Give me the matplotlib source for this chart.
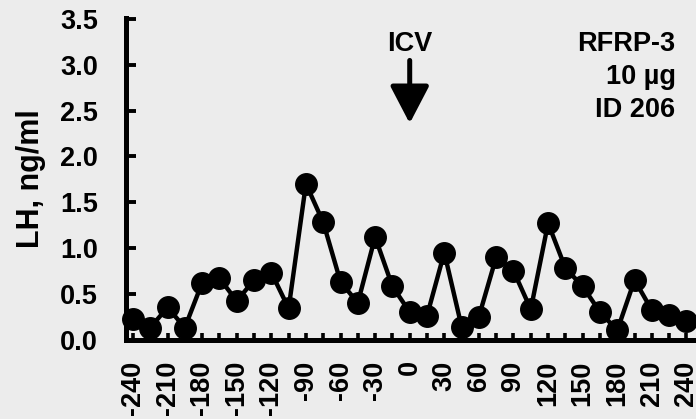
import matplotlib
matplotlib.use("Agg")
import matplotlib.pyplot as plt
import numpy as np

plt.rcParams['font.family'] = ['Liberation Sans', 'DejaVu Sans']
plt.rcParams['font.weight'] = 'bold'

# Sampling times (min relative to ICV injection) and LH concentrations
time_min = [-240, -225, -210, -195, -180, -165, -150, -135, -120, -105,
            -90, -75, -60, -45, -30, -15, 0, 15, 30, 45, 60, 75, 90,
            105, 120, 135, 150, 165, 180, 195, 210, 225, 240]
lh_ng_ml = [0.22, 0.13, 0.35, 0.13, 0.62, 0.67, 0.42, 0.65, 0.73, 0.34,
            1.70, 1.28, 0.63, 0.40, 1.12, 0.58, 0.30, 0.26, 0.95, 0.14,
            0.25, 0.90, 0.75, 0.33, 1.27, 0.78, 0.58, 0.30, 0.10, 0.65,
            0.32, 0.27, 0.20]
x_tick_values = list(range(-240, 241, 15))
x_tick_labels = [str(v) if v % 30 == 0 else "" for v in x_tick_values]
y_tick_values = [0.0, 0.5, 1.0, 1.5, 2.0, 2.5, 3.0, 3.5]
y_tick_labels = ["0.0", "0.5", "1.0", "1.5", "2.0", "2.5", "3.0", "3.5"]
info_lines = ["RFRP-3", "10 µg", "ID 206"]

bg = "#ececec"
fig = plt.figure(figsize=(6.96, 4.19), dpi=100, facecolor=bg)
ax = fig.add_axes([0.1806, 0.1897, 0.8158, 0.7673])
ax.set_facecolor(bg)

ax.plot(time_min, lh_ng_ml, color="black", lw=3.2, marker="o",
        markersize=15.5, markerfacecolor="black", markeredgecolor="black",
        clip_on=False, zorder=3)

ax.set_xlim(-246.3, 246.1)
ax.set_ylim(0, 3.51)

for side in ("top", "right"):
    ax.spines[side].set_visible(False)
for side in ("left", "bottom"):
    ax.spines[side].set_linewidth(3.6)
    ax.spines[side].set_capstyle("projecting")

ax.set_xticks(x_tick_values)
ax.set_xticklabels(x_tick_labels, rotation=90, fontsize=19.5, fontweight="bold")
ax.set_yticks(y_tick_values)
ax.set_yticklabels(y_tick_labels, fontsize=19.5, fontweight="bold")
ax.tick_params(axis="x", direction="in", length=5, width=2.6, pad=15)
ax.tick_params(axis="y", direction="in", length=7, width=2.8, pad=20)

fig.text(31 / 696, 1 - 179 / 419, "LH, ng/ml", rotation=90, ha="center",
         va="center", fontsize=22, fontweight="bold")

# Injection marker
ax.text(0, 3.145, "ICV", ha="center", va="baseline", fontsize=19.5,
        fontweight="bold")
ax.annotate("", xy=(0, 2.36), xytext=(0, 3.047),
            arrowprops=dict(arrowstyle="-|>,head_length=1.15,head_width=0.6",
                            lw=3.6, color="black", shrinkA=0, shrinkB=0,
                            mutation_scale=20))

for line, y in zip(info_lines, [3.145, 2.786, 2.427]):
    ax.text(230.5, y, line, ha="right", va="baseline", fontsize=19.5,
            fontweight="bold")

fig.savefig("out.png", dpi=100, facecolor=bg)
